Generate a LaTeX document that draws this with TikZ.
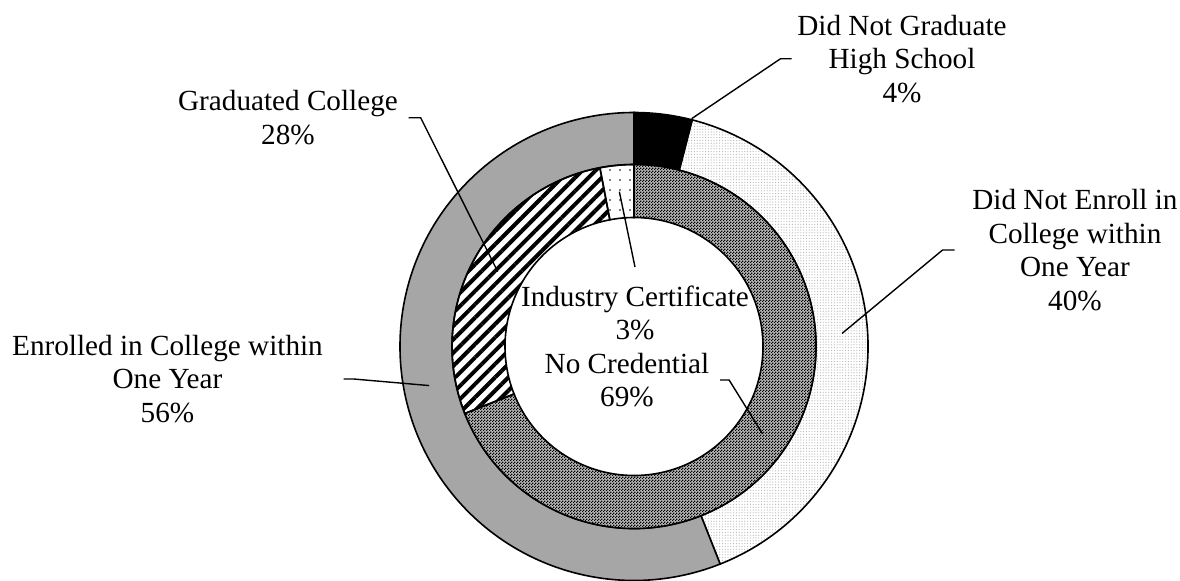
\documentclass[tikz,border=0pt]{standalone}
\usepackage{fontspec}
\setmainfont{Liberation Serif}
\definecolor{mSliceGrey}{HTML}{A6A6A6}
\definecolor{mPaleDot}{HTML}{B4B4B4}
\usepackage{tikz}
\usetikzlibrary{positioning,patterns.meta,calc}

\tikzdeclarepattern{
  name=finechecker,
  type=uncolored,
  bounding box={(0pt,0pt) and (1.5pt,1.5pt)},
  tile size={(1.5pt,1.5pt)},
  code={
    \pgfpathrectangle{\pgfpoint{0pt}{0pt}}{\pgfpoint{0.8pt}{0.8pt}}
    \pgfpathrectangle{\pgfpoint{0.75pt}{0.75pt}}{\pgfpoint{0.8pt}{0.8pt}}
    \pgfusepath{fill}
  }
}

\begin{document}
\begin{tikzpicture}[x=0.5pt, y=0.5pt, font=\fontsize{14.6pt}{16.75pt}\selectfont, line width=0.8pt,
  lbl/.style={align=center, inner sep=0pt},
  leader/.style={line width=0.7pt}]
\useasboundingbox (-634,-233.5) rectangle (546,346.5);
% outer ring
\draw[fill=black] (90:182) arc[start angle=90, end angle=75.6, radius=182] -- (75.6:234) arc[start angle=75.6, end angle=90, radius=234] -- cycle;
\draw[pattern={Dots[radius=0.3pt, distance=1.4pt]}, pattern color=mPaleDot] (75.6:182) arc[start angle=75.6, end angle=-68.4, radius=182] -- (-68.4:234) arc[start angle=-68.4, end angle=75.6, radius=234] -- cycle;
\draw[fill=mSliceGrey] (-68.4:182) arc[start angle=-68.4, end angle=-270, radius=182] -- (-270:234) arc[start angle=-270, end angle=-68.4, radius=234] -- cycle;
% inner ring
\draw[preaction={fill=black!28}, pattern=finechecker] (90:129) arc[start angle=90, end angle=-158.4, radius=129] -- (-158.4:182) arc[start angle=-158.4, end angle=90, radius=182] -- cycle;
\draw[pattern={Lines[angle=45, distance=4.7pt, line width=2pt]}] (-158.4:129) arc[start angle=-158.4, end angle=-259.2, radius=129] -- (-259.2:182) arc[start angle=-259.2, end angle=-158.4, radius=182] -- cycle;
\draw[pattern={Dots[radius=0.45pt, distance=5pt]}] (-259.2:129) arc[start angle=-259.2, end angle=-270, radius=129] -- (-270:182) arc[start angle=-270, end angle=-259.2, radius=182] -- cycle;

% slice points for the leaders
\coordinate (dngpt) at (75.8:235);
\coordinate (dnept) at (3.6:208.5);
\coordinate (enrpt) at (190.8:208.5);
\coordinate (gcpt) at (151.2:155.5);
\coordinate (ictpt) at (95.4:155.5);
\coordinate (nocrpt) at (-34.2:155.5);

% labels
\node[lbl] (dnglab) at (268,287.8) {Did Not Graduate\\High School\\4\%};
\node[lbl] (dnelab) at (441,96.5) {Did Not Enroll in\\College within\\One Year\\40\%};
\node[lbl] (enrlab) at (-466.5,-32.5) {Enrolled in College within\\One Year\\56\%};
\node[lbl] (gclab) at (-346,228.8) {Graduated College\\28\%};
\node[lbl] (ictlab) at (1,33.5) {Industry Certificate\\3\%};
\node[lbl] (nocrlab) at (-7,-33.5) {No Credential\\69\%};

\draw[leader] ([xshift=-2.5pt]dnglab.west) -- ++(-11,0) -- (dngpt);
\draw[leader] ([xshift=-8.5pt]dnelab.west) -- ++(-12,0) -- (dnept);
\draw[leader] ([xshift=10pt]enrlab.east) -- ++(10,0) -- (enrpt);
\draw[leader] ([xshift=5pt]gclab.east) -- ++(12,0) -- (gcpt);
\draw[leader] ([yshift=9pt]ictlab.north) -- (ictpt);
\draw[leader] ([xshift=5pt]nocrlab.east) -- ++(9,0) -- (nocrpt);
\end{tikzpicture}
\end{document}
